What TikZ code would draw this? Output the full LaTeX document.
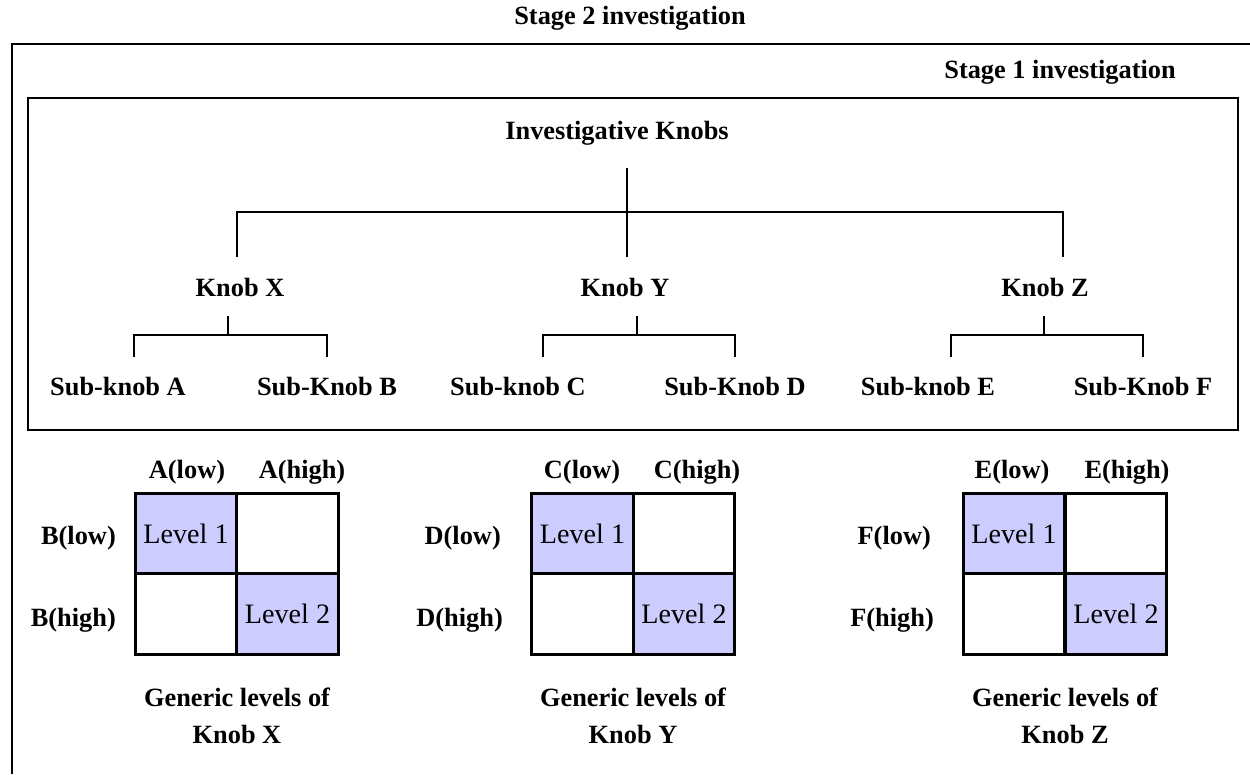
\documentclass[tikz,border=0pt]{standalone}
\usepackage{fontspec}
\setmainfont{Liberation Serif}
\usepackage{xcolor}
\usetikzlibrary{positioning}
\definecolor{kbInk}{HTML}{000000}
\definecolor{kbLevel}{HTML}{CCCCFF}
\tikzset{
  kb diagram/.style={x=0.02cm, y=-0.02cm, text=kbInk,
    font=\fontsize{15}{18}\selectfont\bfseries},
  kb frame/.style={draw=kbInk, line width=1.2pt},
  kb branch/.style={draw=kbInk, line width=1.2pt},
  kb cell/.style={draw=kbInk, fill=white, line width=1.7pt, inner sep=0pt,
    minimum width=2.03cm, minimum height=1.61cm,
    font=\fontsize{16}{18}\selectfont\mdseries},
  kb level/.style={kb cell, fill=kbLevel},
  kb caption/.style={align=center, font=\fontsize{15}{21}\selectfont\bfseries}
}
\begin{document}
\begin{tikzpicture}[kb diagram]
\useasboundingbox (0,0) rectangle (1250,774);
% frames of the two stages
\draw[kb frame] (12,774) -- (12,44) -- (1250,44);
\draw[kb frame] (28,98) rectangle (1238,430);
\node (stage2) at (630,18) {Stage 2 investigation};
\node (stage1) at (1060,72) {Stage 1 investigation};
% knob tree
\node (root) at (617,133) {Investigative Knobs};
\node (knobX) at (240,287) {Knob X};
\node (knobY) at (625,287) {Knob Y};
\node (knobZ) at (1045,287) {Knob Z};
\node (subA) at (118,387) {Sub-knob A};
\node (subB) at (327,387) {Sub-Knob B};
\node (subC) at (518,387) {Sub-knob C};
\node (subD) at (735,387) {Sub-Knob D};
\node (subE) at (928,387) {Sub-knob E};
\node (subF) at (1143,387) {Sub-Knob F};
\coordinate (rootTop) at (627,168);
\coordinate (rootBar) at (627,212);
\coordinate (legX) at (237,257);
\coordinate (legY) at (627,257);
\coordinate (legZ) at (1063,257);
\draw[kb branch] (rootTop) -- (legY);
\draw[kb branch] (legX) |- (rootBar) -| (legZ);
\coordinate (xTop) at (228,316);
\coordinate (xBar) at (228,335);
\coordinate (legA) at (134,357);
\coordinate (legB) at (327,357);
\draw[kb branch] (xTop) -- (xBar);
\draw[kb branch] (legA) |- (xBar) -| (legB);
\coordinate (yTop) at (637,316);
\coordinate (yBar) at (637,335);
\coordinate (legC) at (543,357);
\coordinate (legD) at (735,357);
\draw[kb branch] (yTop) -- (yBar);
\draw[kb branch] (legC) |- (yBar) -| (legD);
\coordinate (zTop) at (1044,316);
\coordinate (zBar) at (1044,335);
\coordinate (legE) at (951,357);
\coordinate (legF) at (1143,357);
\draw[kb branch] (zTop) -- (zBar);
\draw[kb branch] (legE) |- (zBar) -| (legF);
% generic levels of knob X
\node[kb level] (x11) at (186,533.5) {Level 1};
\node[kb cell] (x12) at (287.5,533.5) {};
\node[kb cell] (x21) at (186,614) {};
\node[kb level] (x22) at (287.5,614) {Level 2};
\node (aLow) at (187,472) {A(low)};
\node (aHigh) at (302,472) {A(high)};
\node[anchor=east] (bLow) at (122,538) {B(low)};
\node[anchor=east] (bHigh) at (122,620) {B(high)};
\node[kb caption] (genX) at (237,716) {Generic levels of\\Knob X};
% generic levels of knob Y
\node[kb level] (y11) at (582.5,533.5) {Level 1};
\node[kb cell] (y12) at (684,533.5) {};
\node[kb cell] (y21) at (582.5,614) {};
\node[kb level] (y22) at (684,614) {Level 2};
\node (cLow) at (582,472) {C(low)};
\node (cHigh) at (697,472) {C(high)};
\node[anchor=east] (dLow) at (507,538) {D(low)};
\node[anchor=east] (dHigh) at (509,620) {D(high)};
\node[kb caption] (genY) at (633,716) {Generic levels of\\Knob Y};
% generic levels of knob Z
\node[kb level] (z11) at (1014,533.5) {Level 1};
\node[kb cell] (z12) at (1116,533.5) {};
\node[kb cell] (z21) at (1014,614) {};
\node[kb level] (z22) at (1116,614) {Level 2};
\node (eLow) at (1012,472) {E(low)};
\node (eHigh) at (1127,472) {E(high)};
\node[anchor=east] (fLow) at (937,538) {F(low)};
\node[anchor=east] (fHigh) at (940,620) {F(high)};
\node[kb caption] (genZ) at (1065,716) {Generic levels of\\Knob Z};
\end{tikzpicture}
\end{document}
